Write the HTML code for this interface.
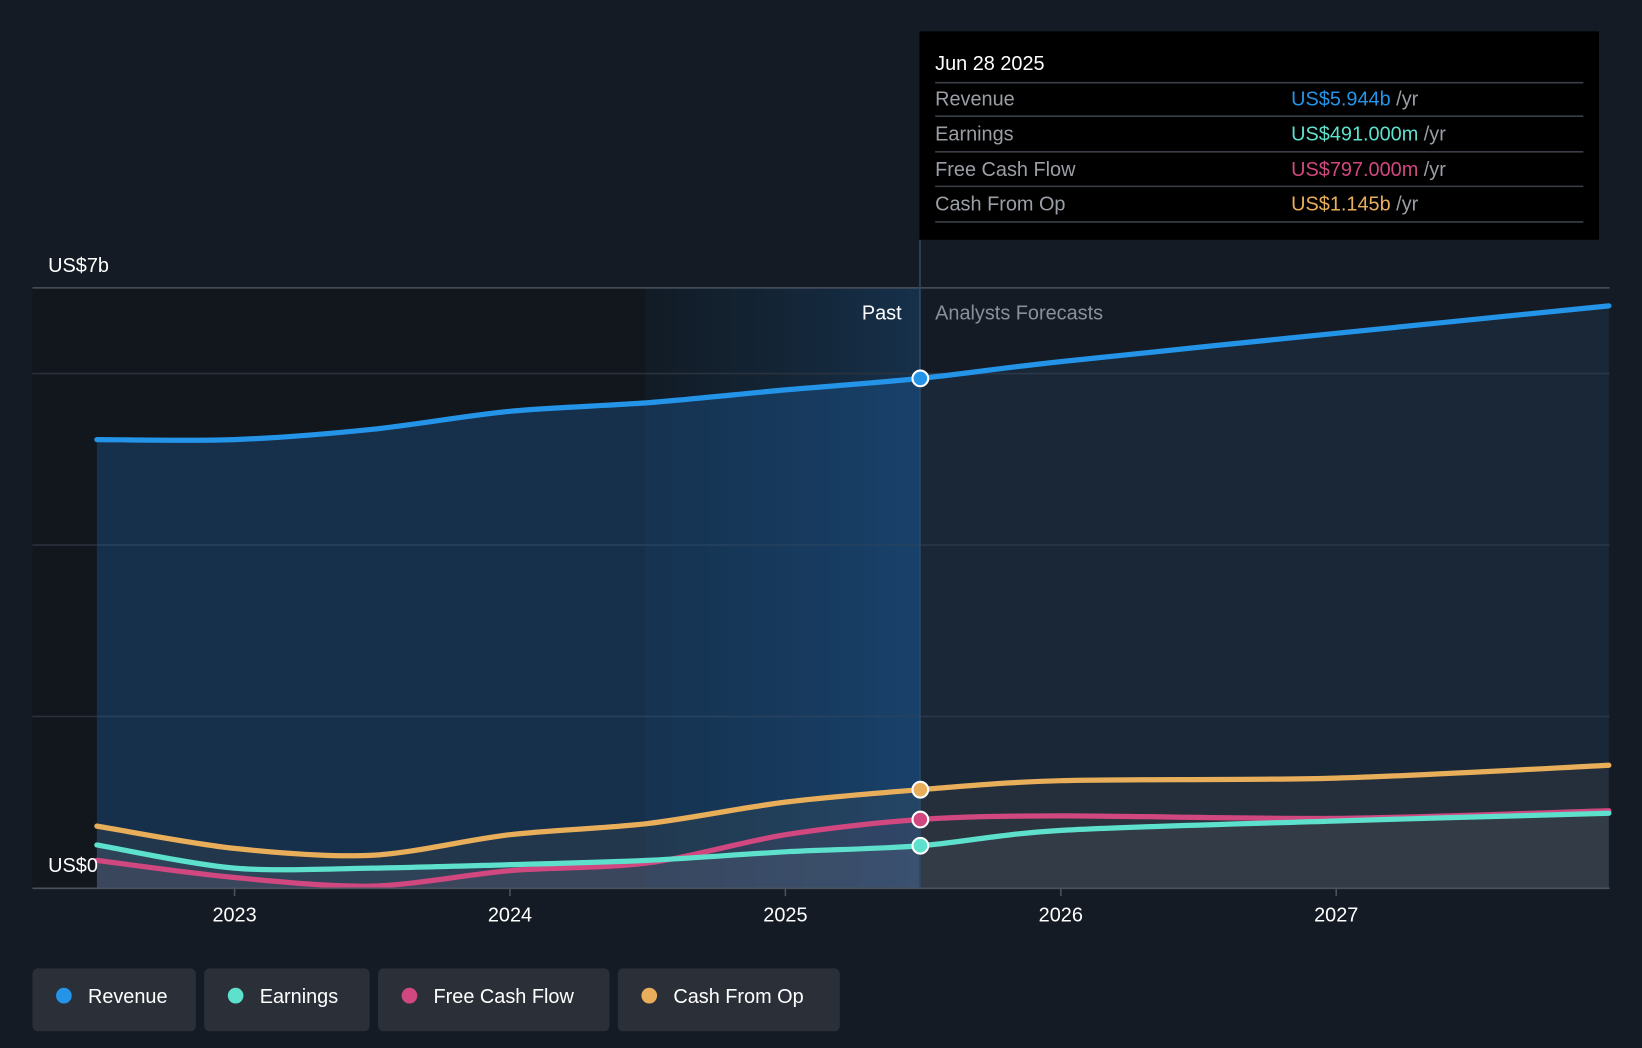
<!DOCTYPE html>
<html><head><meta charset="utf-8"><style>
html,body{margin:0;padding:0;background:#151b24;width:1642px;height:1048px;overflow:hidden}
svg{display:block}
text{font-family:"Liberation Sans",sans-serif}
</style></head><body>
<svg id="chart" width="1642" height="1048" viewBox="0 0 1568 1001" preserveAspectRatio="none" xmlns="http://www.w3.org/2000/svg">
<defs>
<linearGradient id="pastGrad" x1="0" x2="1" y1="0" y2="0">
<stop offset="0" stop-color="#0f1c28" stop-opacity="0.5"/>
<stop offset="1" stop-color="#163a5c" stop-opacity="0.7"/>
</linearGradient>
<linearGradient id="lowGrad" x1="0" x2="0" y1="0" y2="1">
<stop offset="0" stop-color="#8090a0" stop-opacity="0.05"/>
<stop offset="1" stop-color="#8090a0" stop-opacity="0.25"/>
</linearGradient>
<clipPath id="pastClip"><rect x="0" y="0" width="878" height="1001"/></clipPath>
<clipPath id="futClip"><rect x="878" y="0" width="700" height="1001"/></clipPath>
</defs>
<rect width="1568" height="1001" fill="#151b24"/>
<rect x="31" y="275" width="585" height="573" fill="#12161d"/>
<rect x="616" y="275" width="262" height="573" fill="url(#pastGrad)"/>
<g id="grid"></g>
<g id="areas"></g>
<g id="lines"></g>
<line x1="878.5" x2="878.5" y1="229" y2="848" stroke="#2a4a66" stroke-width="1.5"/>
<line x1="31" x2="1537" y1="848.5" y2="848.5" stroke="#4a5260" stroke-width="1.5"/>
<g id="xticks"></g>
<text x="46" y="260" fill="#fff" font-size="19">US$7b</text>
<text x="46" y="833" fill="#fff" font-size="19">US$0</text>
<text x="861" y="305" fill="#fff" font-size="19" text-anchor="end">Past</text>
<text x="893" y="305" fill="#8a9099" font-size="19">Analysts Forecasts</text>
<g id="dots"></g>
<g>
<rect x="878" y="30" width="649" height="199" fill="#000"/>
<text x="893" y="67" fill="#fff" font-size="19">Jun 28 2025</text>
<g stroke="#3a3f47" stroke-width="1.5">
<line x1="893" x2="1512" y1="79" y2="79"/><line x1="893" x2="1512" y1="111" y2="111"/>
<line x1="893" x2="1512" y1="145" y2="145"/><line x1="893" x2="1512" y1="178" y2="178"/>
<line x1="893" x2="1512" y1="212" y2="212"/></g>
<g font-size="19" fill="#9a9ea5">
<text x="893" y="101">Revenue</text><text x="893" y="134">Earnings</text>
<text x="893" y="168">Free Cash Flow</text><text x="893" y="201">Cash From Op</text></g>
<g font-size="19">
<text x="1233" y="101"><tspan fill="#2394e8">US$5.944b</tspan><tspan fill="#9a9ea5"> /yr</tspan></text>
<text x="1233" y="134"><tspan fill="#5de0cc">US$491.000m</tspan><tspan fill="#9a9ea5"> /yr</tspan></text>
<text x="1233" y="168"><tspan fill="#d0487f">US$797.000m</tspan><tspan fill="#9a9ea5"> /yr</tspan></text>
<text x="1233" y="201"><tspan fill="#e9ae5a">US$1.145b</tspan><tspan fill="#9a9ea5"> /yr</tspan></text>
</g></g>
<g id="legend"></g>
</svg>
<script>
const years = [2022.5, 2023, 2023.5, 2024, 2024.5, 2025, 2025.49, 2026, 2027, 2028];
const revenue = [5.23, 5.23, 5.35, 5.56, 5.66, 5.81, 5.944, 6.14, 6.47, 6.79];
const earnings = [0.50, 0.23, 0.23, 0.27, 0.32, 0.42, 0.491, 0.67, 0.78, 0.87];
const fcf = [0.32, 0.12, 0.02, 0.20, 0.29, 0.62, 0.797, 0.84, 0.81, 0.90];
const cfo = [0.72, 0.46, 0.38, 0.62, 0.75, 1.00, 1.145, 1.25, 1.28, 1.43];
const tickYears = [2023, 2024, 2025, 2026, 2027];
const gridVals = [2, 4, 6, 7];
const NOW = 2025.49;
const xS = y => 224 + (y - 2023) * 263;
const yS = v => 848 - v * 81.86;
const NS = 'http://www.w3.org/2000/svg';
function mk(tag, attrs, parent){const e=document.createElementNS(NS,tag);for(const k in attrs)e.setAttribute(k,attrs[k]);parent.appendChild(e);return e;}
function pathFor(vals){
  const p = years.map((y,i)=>[xS(Math.min(y,2027.99)), yS(vals[i])]);
  let d = `M${p[0][0]},${p[0][1]}`;
  for(let i=0;i<p.length-1;i++){
    const p0=p[Math.max(0,i-1)],p1=p[i],p2=p[i+1],p3=p[Math.min(p.length-1,i+2)];
    const t=0.15;
    d+=` C${p1[0]+(p2[0]-p0[0])*t},${p1[1]+(p2[1]-p0[1])*t} ${p2[0]-(p3[0]-p1[0])*t},${p2[1]-(p3[1]-p1[1])*t} ${p2[0]},${p2[1]}`;
  }
  return {d, x0:p[0][0], x1:p[p.length-1][0]};
}
const grid=document.getElementById('grid');
gridVals.forEach(v=>{
  const l=mk('line',{x1:31,x2:1537,y1:yS(v),y2:yS(v),stroke:v===7?'#4a5260':'#2a323d','stroke-width':1.5},grid);
  
  
});
const series=[
  {name:'revenue',vals:revenue,color:'#2394e8',past:'rgba(30,100,170,0.33)',fut:'rgba(40,75,110,0.25)'},
  {name:'cash-from-op',vals:cfo,color:'#e9ae5a',past:'rgba(110,100,80,0.15)',fut:'rgba(80,80,75,0.2)'},
  {name:'free-cash-flow',vals:fcf,color:'#d0487f',past:'rgba(140,80,120,0.12)',fut:'rgba(90,80,90,0.12)'},
  {name:'earnings',vals:earnings,color:'#5de0cc',past:'rgba(120,140,160,0.15)',fut:'rgba(120,120,130,0.12)'}
];
const areas=document.getElementById('areas'),lines=document.getElementById('lines'),dots=document.getElementById('dots');
series.forEach(s=>{
  const p=pathFor(s.vals);
  const ad=p.d+` L${p.x1},848 L${p.x0},848 Z`;
  const a1=mk('path',{d:ad,fill:s.past,'clip-path':'url(#pastClip)'},areas);
  
  
  const a2=mk('path',{d:ad,fill:s.fut,'clip-path':'url(#futClip)'},areas);
  
  
  const l=mk('path',{d:p.d,fill:'none',stroke:s.color,'stroke-width':5,'stroke-linecap':'round'},lines);
  
  
  const i=years.indexOf(NOW);
  const c=mk('circle',{cx:xS(NOW),cy:yS(s.vals[i]),r:7.5,fill:s.color,stroke:'#fff','stroke-width':2},dots);
  
  
});
const xt=document.getElementById('xticks');
tickYears.forEach(y=>{
  const t=mk('line',{x1:xS(y),x2:xS(y),y1:848,y2:856,stroke:'#4a5260','stroke-width':1.5},xt);
  
  
  const tx=mk('text',{x:xS(y),y:880,fill:'#fff','font-size':19,'text-anchor':'middle'},xt);
  tx.textContent=y;
  
  
});
const legendItems=[['Revenue','#2394e8',31,156],['Earnings','#5de0cc',195,158],['Free Cash Flow','#d0487f',361,221],['Cash From Op','#e9ae5a',590,212]];
const lg=document.getElementById('legend');
legendItems.forEach(([n,c,x,w])=>{
  const g=mk('g',{},lg);
  
  
  mk('rect',{x:x,y:925,width:w,height:60,rx:5,fill:'#2a2f38'},g);
  mk('circle',{cx:x+30,cy:951,r:7.5,fill:c},g);
  const t=mk('text',{x:x+53,y:958,fill:'#fff','font-size':19},g);
  t.textContent=n;
});
</script>
</body></html>
